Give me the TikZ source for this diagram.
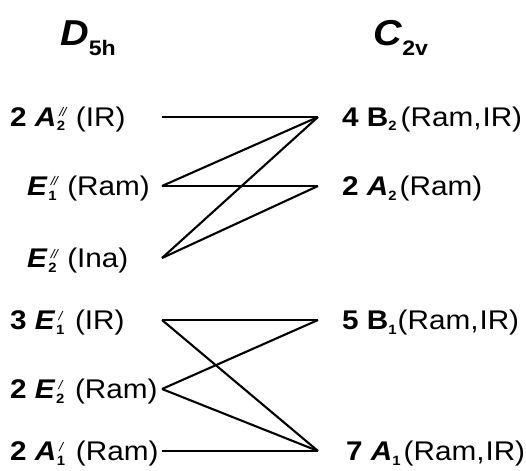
\documentclass[tikz,border=0pt]{standalone}
\usepackage{fontspec}
\setmainfont{Liberation Sans}[FakeStretch=1.1]
\newcommand\bi[1]{\textbf{\textit{#1}}}
\newcommand\subsup[2]{\begingroup
\setbox0\hbox{\fontsize{13.5}{14}\selectfont\bfseries #1}%
\setbox2\hbox{\fontsize{12.5}{13}\selectfont\mdseries\itshape #2}%
\dimen0=\wd0 \ifdim\wd2>\dimen0 \dimen0=\wd2 \fi
\rlap{\kern0.5pt\raisebox{-4.5pt}{\box0}}%
\rlap{\kern3pt\raisebox{9.5pt}{\box2}}%
\kern\dimen0 \kern3pt\endgroup}
\newcommand\lsub[1]{\raisebox{-4.5pt}{\fontsize{13.5}{14}\selectfont\bfseries #1}}
\newcommand\hsub[1]{\raisebox{-10pt}{\fontsize{21}{22}\selectfont\bfseries\upshape #1}}
\newcommand\ri{(Ram,\kern1pt IR)}
\newcommand\dblprm{/\kern-0.5pt/}
\begin{document}
\begin{tikzpicture}[x=1pt,y=-1pt,
  lab/.style={anchor=base west,inner sep=0pt,font=\fontsize{27}{30}\selectfont},
  hdr/.style={anchor=base west,inner sep=0pt,font=\fontsize{36}{40}\selectfont},
  conn/.style={line width=2.1pt}]
\useasboundingbox (0,0) rectangle (526,470);
% headers
\node[hdr] (D) at (60,46) {\bi{D}\hsub{5h}};
\node[hdr] (C) at (373,46) {\bi{C}\hsub{2v}};
% left labels
\node[lab] (L1) at (10,126.5) {\textbf{2 \textit{A}}\subsup{2}{\dblprm} (IR)};
\node[lab] (L2) at (27,195.5) {\bi{E}\subsup{1}{\dblprm} (Ram)};
\node[lab] (L3) at (27,267.5) {\bi{E}\subsup{2}{\dblprm} (Ina)};
\node[lab] (L4) at (10,329.5) {\textbf{3 \textit{E}}\subsup{1}{/} (IR)};
\node[lab] (L5) at (10,398.5) {\textbf{2 \textit{E}}\subsup{2}{/} (Ram)};
\node[lab] (L6) at (10,460.5) {\textbf{2 \textit{A}}\subsup{1}{/} (Ram)};
% right labels
\node[lab] (R1) at (342,126.5) {\textbf{4 B}\lsub{2}\kern4pt\ri};
\node[lab] (R2) at (342,195.5) {\textbf{2 \textit{A}}\lsub{2}\kern3pt(Ram)};
\node[lab] (R3) at (342,329.5) {\textbf{5 B}\lsub{1}\kern1pt\ri};
\node[lab] (R4) at (346,460.5) {\textbf{7 \textit{A}}\lsub{1}\kern3pt\ri};
% connector ends
\coordinate (a1) at (162,117);
\coordinate (a2) at (162,186);
\coordinate (a3) at (162,258);
\coordinate (a4) at (162,320);
\coordinate (a5) at (162,389);
\coordinate (a6) at (162,451);
\coordinate (b1) at (318,117);
\coordinate (b2) at (318,186);
\coordinate (b3) at (318,320);
\coordinate (b4) at (318,451);
% connectors
\draw[conn] (a1) -- (b1);
\draw[conn] (a2) -- (b1);
\draw[conn] (a2) -- (b2);
\draw[conn] (a3) -- (b1);
\draw[conn] (a3) -- (b2);
\draw[conn] (a4) -- (b3);
\draw[conn] (a4) -- (b4);
\draw[conn] (a5) -- (b3);
\draw[conn] (a5) -- (b4);
\draw[conn] (a6) -- (b4);
\end{tikzpicture}
\end{document}
